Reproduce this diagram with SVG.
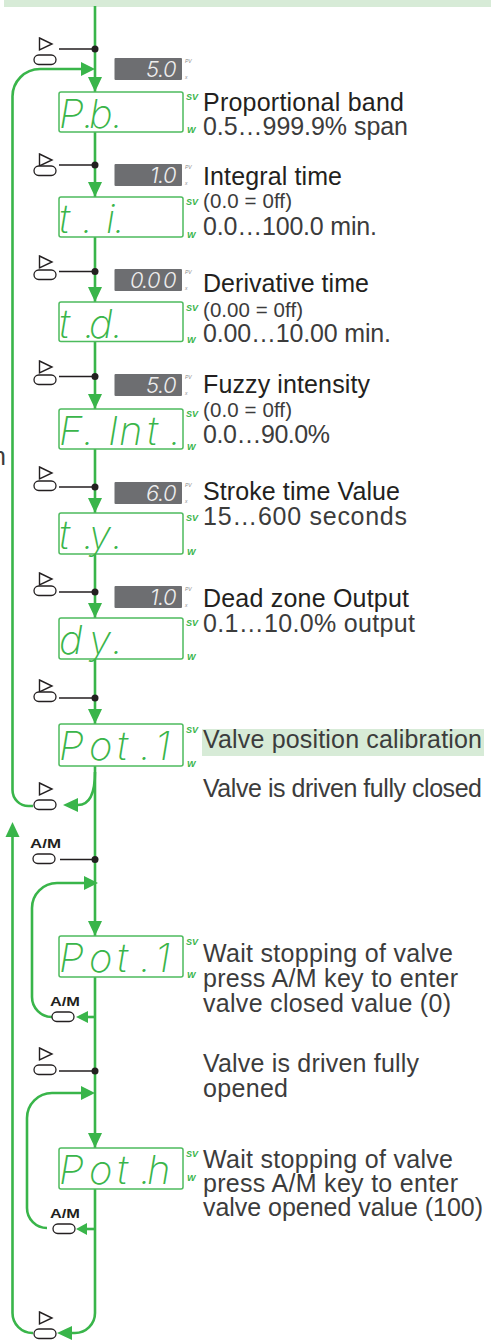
<svg xmlns="http://www.w3.org/2000/svg" xmlns:xlink="http://www.w3.org/1999/xlink" width="498" height="1340" viewBox="0 0 498 1340">
<style>
.ln{stroke:#39b54a;stroke-width:2.6;fill:none}
.ah{fill:#39b54a}
.bk{stroke:#231f20;stroke-width:1.4;fill:none}
.dot{fill:#231f20}
.box{fill:#fff;stroke:#4dbb5d;stroke-width:1.5}
.seg{font-family:Inter,"DejaVu Sans",sans-serif;font-weight:200;font-style:italic;font-size:40px;fill:#3ab54a}
.gbox{fill:#6d6e71}
.gseg{font-family:Inter,"DejaVu Sans",sans-serif;font-weight:300;font-style:italic;font-size:22px;fill:#ededed}
.tiny{font-family:"Liberation Sans",sans-serif;font-style:italic;font-size:5px;fill:#8a8a8a}
.sv{font-family:"Liberation Sans",sans-serif;font-weight:bold;font-style:italic;font-size:9px;fill:#3ab54a}
.h{font-family:"Liberation Sans",sans-serif;font-size:25px;fill:#231f20}
.t{font-family:"Liberation Sans",sans-serif;font-size:25px;fill:#3c3c3c}
.s{font-size:20.5px}
.am{font-family:"Liberation Sans",sans-serif;font-weight:bold;font-size:13px;fill:#231f20}
.tri{fill:none;stroke:#231f20;stroke-width:1.4}
.pill{fill:#fff;stroke:#231f20;stroke-width:1.3}
</style>
<defs>
<polygon id="tri" class="tri" points="0,0 12.5,6 0,12"/>
<rect id="pill" class="pill" x="0" y="0" width="22" height="9.5" rx="4.75"/>
<polygon id="ahd" class="ah" points="0,0 -7,-15 7,-15"/>
</defs>

<rect x="4" y="0" width="487" height="7" fill="#d7ebd7"/>

<g id="connectors">
<path class="ln" d="M95 6 V1313 A20 20 0 0 1 75 1333 H72"/>
<path class="ln" d="M33 806 H28.5 A16 16 0 0 1 12.5 790 V97 A27.5 27.5 0 0 1 40 69 H82"/>
<path class="ln" d="M95 772 Q95 805 78 805"/>
<path class="ln" d="M33 1333 H32.5 A20 20 0 0 1 12.5 1313 V836"/>
<path class="ln" d="M84 883 H57 A25 25 0 0 0 32 908 V997 A20 20 0 0 0 52 1017"/>
<path class="ln" d="M88 1017 H95"/>
<path class="ln" d="M81 1093 H52 A25 25 0 0 0 27 1118 V1208 A20 20 0 0 0 47 1228"/>
<path class="ln" d="M87 1229 H95"/>
<use href="#ahd" x="95" y="92"/>
<use href="#ahd" x="95" y="197"/>
<use href="#ahd" x="95" y="302"/>
<use href="#ahd" x="95" y="409"/>
<use href="#ahd" x="95" y="513"/>
<use href="#ahd" x="95" y="618"/>
<use href="#ahd" x="95" y="724"/>
<use href="#ahd" x="95" y="936"/>
<use href="#ahd" x="95" y="1148"/>
<polygon class="ah" points="95,69 81,62 81,76"/>
<polygon class="ah" points="63,805 78,798 78,812"/>
<polygon class="ah" points="12.5,822 5.5,837 19.5,837"/>
<polygon class="ah" points="57,1333 72,1326 72,1340"/>
<polygon class="ah" points="98,883 84,876 84,890"/>
<polygon class="ah" points="76,1017 88,1011 88,1023"/>
<polygon class="ah" points="95,1093 81,1086 81,1100"/>
<polygon class="ah" points="76,1229 87,1223 87,1235"/>
<path class="bk" d="M59 49 H95 M59 165 H95 M59 271.5 H95 M59 376.5 H95 M59 487 H95 M59 592 H95 M59 698 H95 M60 859.5 H95 M59 1071 H95"/>
<g class="dot">
<circle cx="95" cy="49" r="3.5"/>
<circle cx="95" cy="165" r="3.5"/>
<circle cx="95" cy="271.5" r="3.5"/>
<circle cx="95" cy="376.5" r="3.5"/>
<circle cx="95" cy="487" r="3.5"/>
<circle cx="95" cy="592" r="3.5"/>
<circle cx="95" cy="698" r="3.5"/>
<circle cx="95" cy="859.5" r="3.5"/>
<circle cx="95" cy="1071" r="3.5"/>
</g>
</g>

<g id="buttons">
<g id="btn1"><use href="#tri" x="39.5" y="38"/><use href="#pill" x="34" y="55"/></g>
<g id="btn2"><use href="#tri" x="39.5" y="154"/><use href="#pill" x="34" y="166"/></g>
<g id="btn3"><use href="#tri" x="39.5" y="256"/><use href="#pill" x="34" y="270"/></g>
<g id="btn4"><use href="#tri" x="39.5" y="361"/><use href="#pill" x="34" y="375"/></g>
<g id="btn5"><use href="#tri" x="39.5" y="467"/><use href="#pill" x="34" y="481"/></g>
<g id="btn6"><use href="#tri" x="39.5" y="573"/><use href="#pill" x="34" y="586"/></g>
<g id="btn7"><use href="#tri" x="39.5" y="680"/><use href="#pill" x="34" y="692"/></g>
<g id="btn8"><use href="#tri" x="39.5" y="783"/><use href="#pill" x="34" y="800"/></g>
<g id="btn-am1"><text class="am" x="30" y="848" textLength="31" lengthAdjust="spacingAndGlyphs">A/M</text><use href="#pill" x="33" y="854"/></g>
<g id="btn-am2"><text class="am" x="50" y="1006" textLength="30" lengthAdjust="spacingAndGlyphs">A/M</text><use href="#pill" x="52" y="1012"/></g>
<g id="btn9"><use href="#tri" x="39.5" y="1048"/><use href="#pill" x="34" y="1065"/></g>
<g id="btn-am3"><text class="am" x="50" y="1218" textLength="30" lengthAdjust="spacingAndGlyphs">A/M</text><use href="#pill" x="53" y="1224"/></g>
<g id="btn10"><use href="#tri" x="39.5" y="1312"/><use href="#pill" x="34" y="1329"/></g>
</g>

<g id="node-pb">
<rect class="gbox" x="114.5" y="58" width="67.5" height="22" rx="1"/>
<text class="gseg" x="146 158 163" y="77">5.0</text>
<text class="tiny" x="185" y="63">PV</text><text class="tiny" x="185" y="79">x</text>
<rect class="box" x="59" y="92" width="124" height="40" rx="2"/>
<text class="seg" x="59 83 89 112" y="128">P.b.</text>
<text class="sv" x="186" y="100">SV</text><text class="sv" x="187" y="133">W</text>
<text class="h" x="203" y="111" textLength="201">Proportional band</text>
<text class="t" x="203" y="135" textLength="205">0.5…999.9% span</text>
</g>

<g id="node-ti">
<rect class="gbox" x="114.5" y="164" width="67.5" height="22" rx="1"/>
<text class="gseg" x="150 158 163" y="183">1.0</text>
<text class="tiny" x="185" y="169">PV</text><text class="tiny" x="185" y="185">x</text>
<rect class="box" x="59" y="197" width="124" height="40" rx="2"/>
<text class="seg" x="59 82 95 106 114" y="233">t. i.</text>
<text class="sv" x="186" y="205">SV</text><text class="sv" x="187" y="238">W</text>
<text class="h" x="203" y="185" textLength="139">Integral time</text>
<text class="t s" x="203" y="208" textLength="89">(0.0 = 0ff)</text>
<text class="t" x="203" y="235" textLength="174">0.0…100.0 min.</text>
</g>

<g id="node-td">
<rect class="gbox" x="114.5" y="269" width="67.5" height="22" rx="1"/>
<text class="gseg" x="130 142 147 163" y="288">0.00</text>
<text class="tiny" x="185" y="274">PV</text><text class="tiny" x="185" y="290">x</text>
<rect class="box" x="59" y="302" width="124" height="39.5" rx="2"/>
<text class="seg" x="59 84 89 112" y="338">t.d.</text>
<text class="sv" x="186" y="311">SV</text><text class="sv" x="187" y="343">W</text>
<text class="h" x="203" y="292" textLength="166">Derivative time</text>
<text class="t s" x="203" y="317" textLength="100">(0.00 = 0ff)</text>
<text class="t" x="203" y="342" textLength="188">0.00…10.00 min.</text>
</g>

<g id="node-fint">
<rect class="gbox" x="114.5" y="374" width="67.5" height="22" rx="1"/>
<text class="gseg" x="146 158 163" y="393">5.0</text>
<text class="tiny" x="185" y="379">PV</text><text class="tiny" x="185" y="395">x</text>
<rect class="box" x="59" y="409" width="124" height="40" rx="2"/>
<text class="seg" x="59 83 95 108 119 147 170" y="445">F. Int.</text>
<text class="sv" x="186" y="417">SV</text><text class="sv" x="187" y="450">W</text>
<text class="h" x="203" y="393" textLength="167">Fuzzy intensity</text>
<text class="t s" x="203" y="417" textLength="89">(0.0 = 0ff)</text>
<text class="t" x="203" y="443" textLength="127">0.0…90.0%</text>
<text class="t" x="6" y="465" text-anchor="end">n</text>
</g>

<g id="node-ty">
<rect class="gbox" x="114.5" y="482" width="67.5" height="22" rx="1"/>
<text class="gseg" x="146 158 163" y="501">6.0</text>
<text class="tiny" x="185" y="487">PV</text><text class="tiny" x="185" y="503">x</text>
<rect class="box" x="59" y="513" width="124" height="41" rx="2"/>
<text class="seg" x="59 83 89 112" y="549">t.y.</text>
<text class="sv" x="186" y="521">SV</text><text class="sv" x="187" y="555">W</text>
<text class="h" x="203" y="500" textLength="197">Stroke time Value</text>
<text class="t" x="203" y="525" textLength="204">15…600 seconds</text>
</g>

<g id="node-dy">
<rect class="gbox" x="114.5" y="586" width="67.5" height="22" rx="1"/>
<text class="gseg" x="150 158 163" y="605">1.0</text>
<text class="tiny" x="185" y="591">PV</text><text class="tiny" x="185" y="607">x</text>
<rect class="box" x="59" y="618" width="124" height="41" rx="2"/>
<text class="seg" x="59 89 112" y="654">dy.</text>
<text class="sv" x="186" y="626">SV</text><text class="sv" x="187" y="660">W</text>
<text class="h" x="203" y="607" textLength="206">Dead zone Output</text>
<text class="t" x="203" y="632" textLength="212">0.1…10.0% output</text>
</g>

<g id="node-pot1">
<rect class="box" x="59" y="724" width="124" height="42" rx="2"/>
<text class="seg" x="59 89 117 140 155" y="760">Pot.1</text>
<text class="sv" x="186" y="733">SV</text><text class="sv" x="187" y="767">W</text>
<rect x="202" y="729" width="282" height="27" fill="#d7ebd7"/>
<text class="t" x="203" y="748" textLength="279">Valve position calibration</text>
<text class="t" x="203" y="797" textLength="279">Valve is driven fully closed</text>
</g>

<g id="node-pot1-wait">
<rect class="box" x="59" y="936" width="124" height="41" rx="2"/>
<text class="seg" x="59 89 117 140 155" y="972">Pot.1</text>
<text class="sv" x="186" y="945">SV</text><text class="sv" x="187" y="978">W</text>
<text class="t" x="203" y="962" textLength="250">Wait stopping of valve</text>
<text class="t" x="203" y="987" textLength="255">press A/M key to enter</text>
<text class="t" x="203" y="1012" textLength="248">valve closed value (0)</text>
<text class="t" x="203" y="1072" textLength="216">Valve is driven fully</text>
<text class="t" x="203" y="1097" textLength="85">opened</text>
</g>

<g id="node-poth">
<rect class="box" x="59" y="1148" width="124" height="41" rx="2"/>
<text class="seg" x="59 89 117 140 147" y="1184">Pot.h</text>
<text class="sv" x="186" y="1157">SV</text><text class="sv" x="187" y="1181">W</text>
<text class="t" x="203" y="1168" textLength="250">Wait stopping of valve</text>
<text class="t" x="203" y="1192" textLength="255">press A/M key to enter</text>
<text class="t" x="203" y="1216" textLength="280">valve opened value (100)</text>
</g>
</svg>
